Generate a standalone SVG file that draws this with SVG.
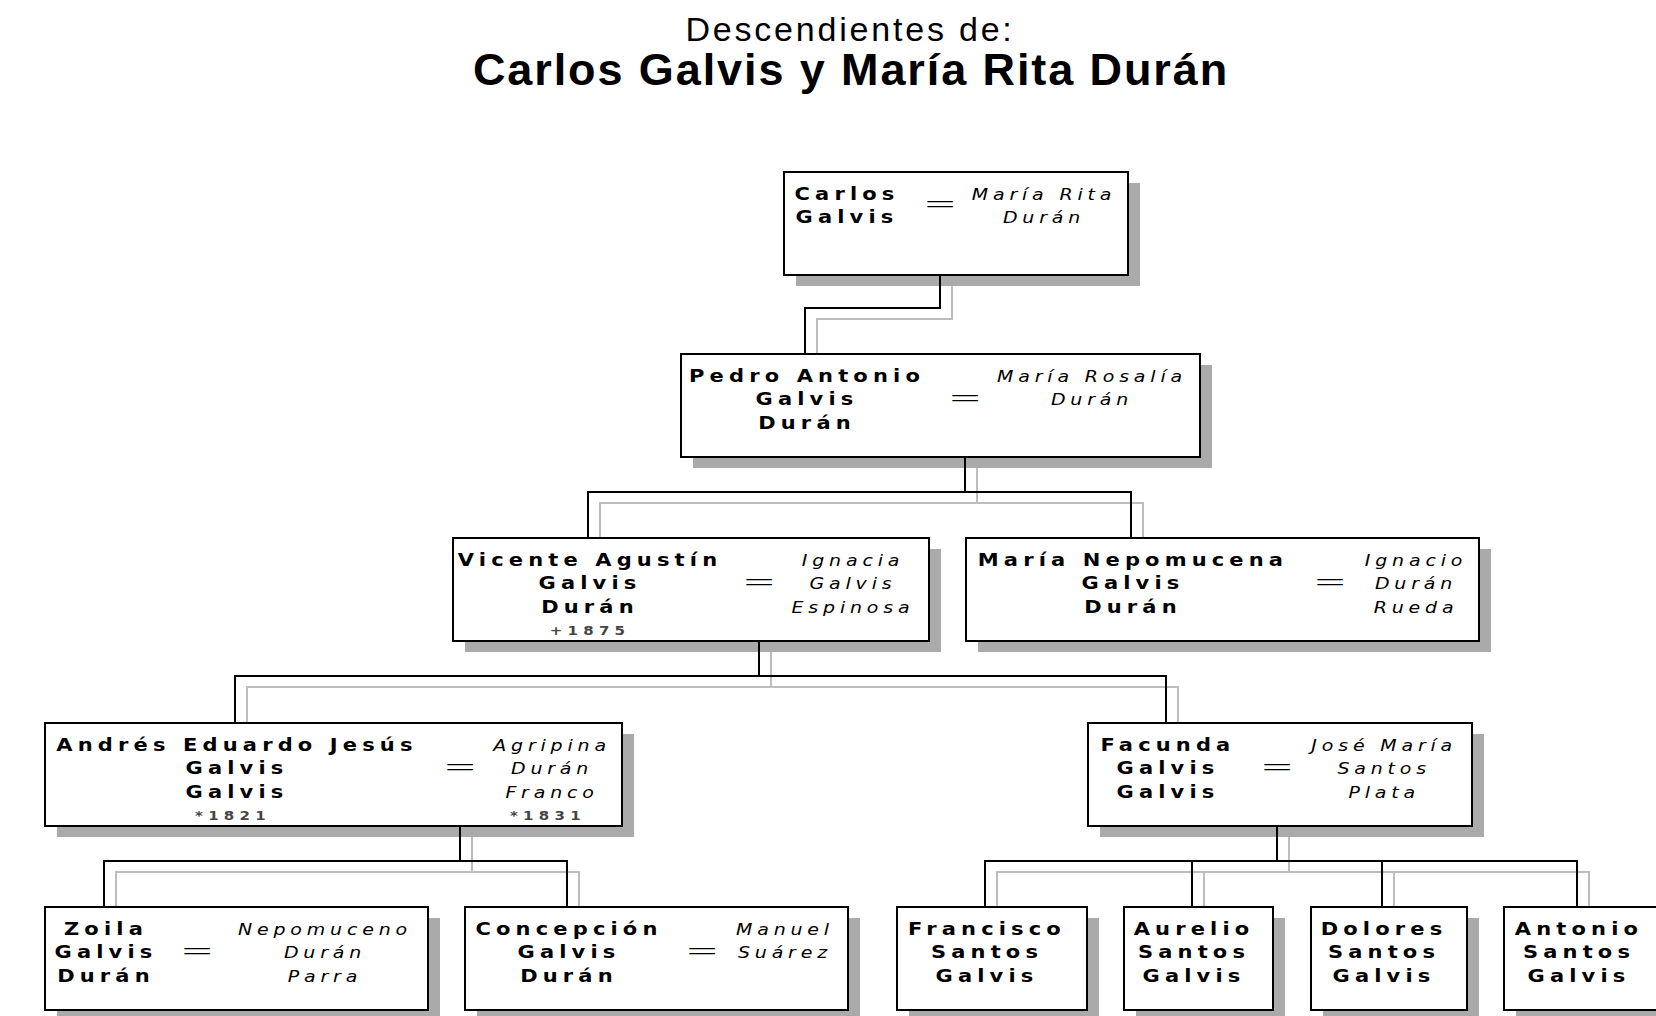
<svg xmlns="http://www.w3.org/2000/svg" width="1656" height="1016" viewBox="0 0 1656 1016">
  <style>
    .bg { fill: #ffffff; }
    .box { fill: #ffffff; stroke: #000000; stroke-width: 2; }
    .shadow { fill: #aaaaaa; }
    .link { fill: none; stroke: #000000; stroke-width: 2; }
    .link-shadow { fill: none; stroke: #bdbdbd; stroke-width: 2; }
    .name, .spouse, .date, .eq { transform-box: fill-box; transform-origin: center; }
    .name { font-family: "DejaVu Sans", Verdana, sans-serif; font-weight: bold; font-size: 17.5px; letter-spacing: 4.3px; fill: #000000; text-anchor: middle; transform: scaleX(1.2); }
    .spouse { font-family: "DejaVu Sans", Verdana, sans-serif; font-style: italic; font-size: 16.5px; letter-spacing: 4.2px; fill: #000000; text-anchor: middle; transform: scaleX(1.15); }
    .date { font-family: "DejaVu Sans", Verdana, sans-serif; font-weight: bold; font-size: 12.5px; letter-spacing: 4.4px; fill: #444444; text-anchor: middle; transform: scaleX(1.2); }
    .eq { font-family: "DejaVu Sans", Verdana, sans-serif; font-weight: 200; font-size: 34px; fill: #000000; text-anchor: middle; transform: scaleX(1.2); }
    .title1 { font-family: "Liberation Sans", Arial, sans-serif; font-size: 34px; letter-spacing: 2.8px; fill: #000000; text-anchor: middle; }
    .title2 { font-family: "Liberation Sans", Arial, sans-serif; font-weight: bold; font-size: 45px; letter-spacing: 1.9px; fill: #000000; text-anchor: middle; }
  </style>

  <rect class="bg" x="0" y="0" width="1656" height="1016"/>

  <g id="title">
    <text class="title1" x="850" y="41">Descendientes de:</text>
    <text class="title2" x="851" y="85">Carlos Galvis y María Rita Durán</text>
  </g>

  <!-- connector shadows, offset (12, 11) -->
  <g id="connector-shadows" class="link-shadow" transform="translate(12 11)">
    <path d="M940 275 V308 H805 V354"/>
    <path d="M965 457 V492 M588 538 V492 H1131 V538"/>
    <path d="M759 641 V676 M235 723 V676 H1166 V723"/>
    <path d="M460 826 V861 M104 907 V861 H567 V907"/>
    <path d="M1277 826 V861 M985 907 V861 H1577 V907 M1192 861 V907 M1382 861 V907"/>
  </g>

  <!-- box shadows -->
  <g id="box-shadows" class="shadow" transform="translate(12 11)">
    <rect x="784" y="172" width="344" height="103"/>
    <rect x="681" y="354" width="519" height="103"/>
    <rect x="453" y="538" width="476" height="103"/>
    <rect x="966" y="538" width="513" height="103"/>
    <rect x="45" y="723" width="577" height="103"/>
    <rect x="1088" y="723" width="384" height="103"/>
    <rect x="45" y="907" width="383" height="103"/>
    <rect x="465" y="907" width="383" height="103"/>
    <rect x="897" y="907" width="190" height="103"/>
    <rect x="1124" y="907" width="149" height="103"/>
    <rect x="1311" y="907" width="156" height="103"/>
    <rect x="1504" y="907" width="160" height="103"/>
  </g>

  <!-- connectors -->
  <g id="connectors" class="link">
    <path d="M940 275 V308 H805 V354"/>
    <path d="M965 457 V492 M588 538 V492 H1131 V538"/>
    <path d="M759 641 V676 M235 723 V676 H1166 V723"/>
    <path d="M460 826 V861 M104 907 V861 H567 V907"/>
    <path d="M1277 826 V861 M985 907 V861 H1577 V907 M1192 861 V907 M1382 861 V907"/>
  </g>

  <g id="carlos">
    <rect class="box" x="784" y="172" width="344" height="103"/>
    <text class="name"><tspan x="847" y="200">Carlos</tspan><tspan x="847" y="223.5">Galvis</tspan></text>
    <text class="eq" x="940" y="215.5">=</text>
    <text class="spouse"><tspan x="1044" y="200">María Rita</tspan><tspan x="1044" y="223.5">Durán</tspan></text>
  </g>

  <g id="pedro">
    <rect class="box" x="681" y="354" width="519" height="103"/>
    <text class="name"><tspan x="807" y="382">Pedro Antonio</tspan><tspan x="807" y="405.5">Galvis</tspan><tspan x="807" y="429">Durán</tspan></text>
    <text class="eq" x="965" y="409.5">=</text>
    <text class="spouse"><tspan x="1092" y="382">María Rosalía</tspan><tspan x="1092" y="405.5">Durán</tspan></text>
  </g>

  <g id="vicente">
    <rect class="box" x="453" y="538" width="476" height="103"/>
    <text class="name"><tspan x="590" y="566">Vicente Agustín</tspan><tspan x="590" y="589.5">Galvis</tspan><tspan x="590" y="613">Durán</tspan></text>
    <text class="date" x="590" y="635">+1875</text>
    <text class="eq" x="759" y="593.5">=</text>
    <text class="spouse"><tspan x="853" y="566">Ignacia</tspan><tspan x="853" y="589.5">Galvis</tspan><tspan x="853" y="613">Espinosa</tspan></text>
  </g>

  <g id="maria-nepomucena">
    <rect class="box" x="966" y="538" width="513" height="103"/>
    <text class="name"><tspan x="1133" y="566">María Nepomucena</tspan><tspan x="1133" y="589.5">Galvis</tspan><tspan x="1133" y="613">Durán</tspan></text>
    <text class="eq" x="1330" y="593.5">=</text>
    <text class="spouse"><tspan x="1416" y="566">Ignacio</tspan><tspan x="1416" y="589.5">Durán</tspan><tspan x="1416" y="613">Rueda</tspan></text>
  </g>

  <g id="andres">
    <rect class="box" x="45" y="723" width="577" height="103"/>
    <text class="name"><tspan x="237" y="751">Andrés Eduardo Jesús</tspan><tspan x="237" y="774.5">Galvis</tspan><tspan x="237" y="798">Galvis</tspan></text>
    <text class="date" x="233" y="820">*1821</text>
    <text class="eq" x="460" y="778.5">=</text>
    <text class="spouse"><tspan x="552" y="751">Agripina</tspan><tspan x="552" y="774.5">Durán</tspan><tspan x="552" y="798">Franco</tspan></text>
    <text class="date" x="548" y="820">*1831</text>
  </g>

  <g id="facunda">
    <rect class="box" x="1088" y="723" width="384" height="103"/>
    <text class="name"><tspan x="1168" y="751">Facunda</tspan><tspan x="1168" y="774.5">Galvis</tspan><tspan x="1168" y="798">Galvis</tspan></text>
    <text class="eq" x="1277" y="778.5">=</text>
    <text class="spouse"><tspan x="1384" y="751">José María</tspan><tspan x="1384" y="774.5">Santos</tspan><tspan x="1384" y="798">Plata</tspan></text>
  </g>

  <g id="zoila">
    <rect class="box" x="45" y="907" width="383" height="103"/>
    <text class="name"><tspan x="106" y="935">Zoila</tspan><tspan x="106" y="958.5">Galvis</tspan><tspan x="106" y="982">Durán</tspan></text>
    <text class="eq" x="197" y="962.5">=</text>
    <text class="spouse"><tspan x="325" y="935">Nepomuceno</tspan><tspan x="325" y="958.5">Durán</tspan><tspan x="325" y="982">Parra</tspan></text>
  </g>

  <g id="concepcion">
    <rect class="box" x="465" y="907" width="383" height="103"/>
    <text class="name"><tspan x="569" y="935">Concepción</tspan><tspan x="569" y="958.5">Galvis</tspan><tspan x="569" y="982">Durán</tspan></text>
    <text class="eq" x="702" y="962.5">=</text>
    <text class="spouse"><tspan x="785" y="935">Manuel</tspan><tspan x="785" y="958.5">Suárez</tspan></text>
  </g>

  <g id="francisco">
    <rect class="box" x="897" y="907" width="190" height="103"/>
    <text class="name"><tspan x="987" y="935">Francisco</tspan><tspan x="987" y="958.5">Santos</tspan><tspan x="987" y="982">Galvis</tspan></text>
  </g>

  <g id="aurelio">
    <rect class="box" x="1124" y="907" width="149" height="103"/>
    <text class="name"><tspan x="1194" y="935">Aurelio</tspan><tspan x="1194" y="958.5">Santos</tspan><tspan x="1194" y="982">Galvis</tspan></text>
  </g>

  <g id="dolores">
    <rect class="box" x="1311" y="907" width="156" height="103"/>
    <text class="name"><tspan x="1384" y="935">Dolores</tspan><tspan x="1384" y="958.5">Santos</tspan><tspan x="1384" y="982">Galvis</tspan></text>
  </g>

  <g id="antonio">
    <rect class="box" x="1504" y="907" width="160" height="103"/>
    <text class="name"><tspan x="1579" y="935">Antonio</tspan><tspan x="1579" y="958.5">Santos</tspan><tspan x="1579" y="982">Galvis</tspan></text>
  </g>
</svg>
